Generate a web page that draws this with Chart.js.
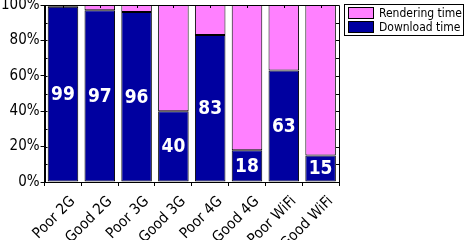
<!DOCTYPE html>
<html>
<head>
<meta charset="utf-8">
<script src="https://cdn.jsdelivr.net/npm/chart.js@4"></script>
<style>
    html, body { margin: 0; padding: 0; background: #fff; }
    #wrap { width: 466px; height: 240px; }
</style>
</head>
<body>
<div id="wrap"><canvas id="loadChart"></canvas></div>
<script>
// Data
const networks = ['Poor 2G', 'Good 2G', 'Poor 3G', 'Good 3G', 'Poor 4G', 'Good 4G', 'Poor WiFi', 'Good WiFi'];
const downloadTime = [99, 97, 96, 40, 83, 18, 63, 15];
const renderingTime = [1, 3, 4, 60, 17, 82, 37, 85];
const yTicks = [0, 20, 40, 60, 80, 100];

const FONT = "'DejaVu Sans Condensed', 'DejaVu Sans', sans-serif";

// frame, inner ticks, x labels, value labels and legend box
const framePlugin = {
    id: 'frame',
    afterDraw(chart) {
        const ctx = chart.ctx;
        const a = chart.chartArea;
        const x = chart.scales.x, y = chart.scales.y;
        ctx.save();
        ctx.strokeStyle = '#000';
        ctx.lineWidth = 1;
        ctx.beginPath();
        ctx.rect(Math.round(a.left) + 0.5, Math.round(a.top) + 0.5,
                 Math.round(a.right - a.left), Math.round(a.bottom - a.top));
        // y ticks every 10%, inside on left and right
        for (let v = 0; v <= 100; v += 10) {
            const py = Math.round(y.getPixelForValue(v)) + 0.5;
            ctx.moveTo(a.left, py); ctx.lineTo(a.left + 3, py);
            ctx.moveTo(a.right, py); ctx.lineTo(a.right - 3, py);
        }
        // x ticks at categories, top inside
        networks.forEach((n, i) => {
            const px = Math.round(x.getPixelForValue(i)) + 0.5;
            ctx.moveTo(px, a.top); ctx.lineTo(px, a.top + 3);
        });
        ctx.stroke();

        // rotated category labels
        ctx.fillStyle = '#000';
        ctx.font = '15px ' + FONT;
        ctx.textAlign = 'right';
        ctx.textBaseline = 'middle';
        networks.forEach((n, i) => {
            const px = x.getPixelForValue(i);
            ctx.save();
            ctx.translate(px + 10, a.bottom + 17);
            ctx.rotate(-Math.PI / 4);
            ctx.fillText(n, 0, 0);
            ctx.restore();
        });

        // value labels inside download segment
        const meta = chart.getDatasetMeta(0);
        ctx.fillStyle = '#fff';
        ctx.font = 'bold 19px ' + FONT;
        ctx.textAlign = 'center';
        meta.data.forEach((bar, i) => {
            ctx.fillText(String(downloadTime[i]), bar.x, (bar.y + bar.base) / 2 + 1);
        });

        // legend (rendering first, download second)
        const lx = 344, ly = 4, lw = 119, lh = 31;
        ctx.fillStyle = '#fff';
        ctx.fillRect(lx, ly, lw, lh);
        ctx.strokeRect(lx + 0.5, ly + 0.5, lw, lh);
        const items = [chart.data.datasets[1], chart.data.datasets[0]];
        ctx.font = '12px ' + FONT;
        ctx.textAlign = 'left';
        items.forEach((ds, i) => {
            const sy = ly + 3 + i * 14;
            ctx.fillStyle = ds.backgroundColor;
            ctx.fillRect(lx + 4, sy, 26, 12);
            ctx.strokeStyle = '#000';
            ctx.strokeRect(lx + 4.5, sy + 0.5, 25, 11);
            ctx.fillStyle = '#000';
            ctx.fillText(ds.label, lx + 35, sy + 6.5);
        });
        ctx.restore();
    }
};

const ctx = document.getElementById('loadChart').getContext('2d');
new Chart(ctx, {
    type: 'bar',
    data: {
        labels: networks,
        datasets: [
            {
                label: 'Download time',
                data: downloadTime,
                backgroundColor: '#0000a0',
                borderColor: '#000',
                borderWidth: 1,
                borderSkipped: false
            },
            {
                label: 'Rendering time',
                data: renderingTime,
                backgroundColor: '#ff80ff',
                borderColor: '#000',
                borderWidth: 1,
                borderSkipped: false
            }
        ]
    },
    options: {
        responsive: true,
        maintainAspectRatio: false,
        animation: false,
        layout: {
            padding: { left: 0, right: 127, top: 0, bottom: 0 }
        },
        plugins: {
            legend: { display: false },
            tooltip: { enabled: false }
        },
        datasets: {
            bar: { barPercentage: 0.83, categoryPercentage: 1 }
        },
        scales: {
            x: {
                stacked: true,
                grid: {
                    drawOnChartArea: false,
                    tickLength: 4,
                    color: '#000'
                },
                border: { color: '#000' },
                ticks: { display: false },
                afterFit: function(scale) {
                    scale.height = 58;
                }
            },
            y: {
                stacked: true,
                min: 0,
                max: 100,
                afterBuildTicks: function(scale) {
                    scale.ticks = yTicks.map(v => ({ value: v }));
                },
                afterFit: function(scale) {
                    scale.paddingTop = 5;
                    scale.paddingBottom = 0;
                },
                grid: {
                    drawOnChartArea: false,
                    tickLength: 4,
                    color: '#000'
                },
                border: { color: '#000' },
                ticks: {
                    color: '#000',
                    padding: 1,
                    font: { family: FONT, size: 15 },
                    callback: function(value) {
                        return value + '%';
                    }
                }
            }
        }
    },
    plugins: [framePlugin]
});
</script>
</body>
</html>
